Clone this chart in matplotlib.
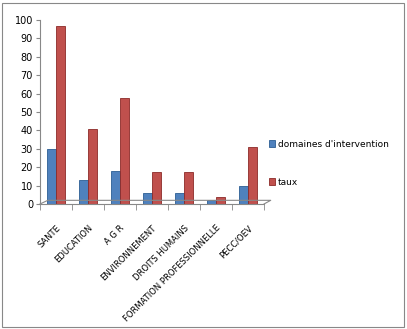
import numpy as np
import matplotlib
matplotlib.use("Agg")
import matplotlib.pyplot as plt
from matplotlib.patches import Rectangle

categories = ["SANTE", "EDUCATION", "A G R", "ENVIRONNEMENT", "DROITS HUMAINS",
              "FORMATION PROFESSIONNELLE", "PECC/OEV"]
domaines = [30, 13, 18, 6, 6, 2, 10]
taux = [97, 41, 57.5, 17.5, 17.5, 4, 31]

blue = "#4F81BD"
red = "#C0504D"

fig = plt.figure(figsize=(4.07, 3.29), dpi=100)
ax = fig.add_axes([40/407, 125/329, 224/407, 184/329])

ind = np.arange(len(categories))
w = 0.28
ax.bar(ind - w/2, domaines, w, color=blue, edgecolor="#2c5d94", linewidth=0.6,
       label="domaines d'intervention")
ax.bar(ind + w/2, taux, w, color=red, edgecolor="#8c2a28", linewidth=0.6, label="taux")

ax.set_xlim(-0.5, len(categories) - 0.5)
ax.set_ylim(0, 100)
ax.set_yticks(range(0, 101, 10))
ax.tick_params(axis="y", labelsize=7, length=3, color="#888888", pad=2)
ax.set_xticks(np.arange(-0.5, len(categories), 1), minor=True)
ax.set_xticks(ind)
ax.set_xticklabels(categories, rotation=45, ha="right", rotation_mode="anchor", fontsize=6)
ax.tick_params(axis="x", which="major", length=0, pad=14)
ax.tick_params(axis="x", which="minor", length=4, color="#888888")

for s in ["top", "right"]:
    ax.spines[s].set_visible(False)
ax.spines["left"].set_color("#888888")
ax.spines["bottom"].set_color("#888888")

# 3D-ish floor outline
ax.plot([0, 0.035, 1.03, 1.0], [0, 0.02, 0.02, 0], transform=ax.transAxes,
        color="#888888", lw=0.8, clip_on=False)

handles, labels = ax.get_legend_handles_labels()
fig.legend(handles, labels, loc="upper left", bbox_to_anchor=(265/407, 1 - 136/329),
           frameon=False, fontsize=6.5, handlelength=0.7, handleheight=0.7,
           handletextpad=0.3, labelspacing=3.2, borderaxespad=0)

fig.patches.append(Rectangle((2/407, 2/329), 402/407, 324/329, transform=fig.transFigure,
                             fill=False, edgecolor="#888888", lw=0.8))

fig.savefig("out.png", dpi=100)
